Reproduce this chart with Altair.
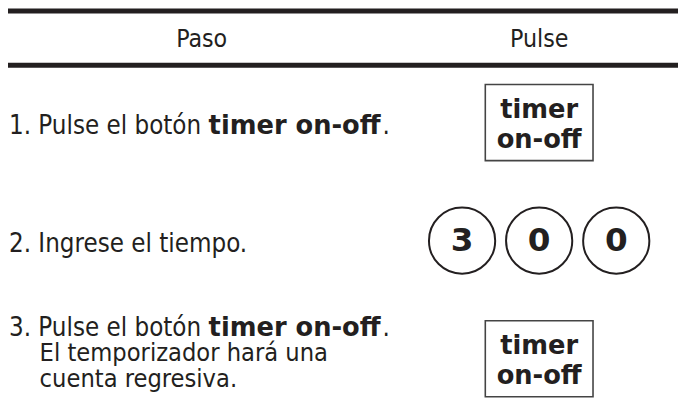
import altair as alt
import pandas as pd

# ---- content ----
headers = ["Paso", "Pulse"]
step_lead = ["1. Pulse el botón", "2. Ingrese el tiempo.", "3. Pulse el botón"]
step_bold = ["timer on-off", "", "timer on-off"]
step_tail = [".", "", "."]
step3_extra = ["El temporizador hará una", "cuenta regresiva."]
button_lines = ["timer", "on-off"]
digits = ["3", "0", "0"]

FONT = "DejaVu Sans Condensed, Liberation Sans, sans-serif"
BFONT = "DejaVu Sans, Liberation Sans, sans-serif"
INK = "#231f20"

# ---- layout (table units = page pixels, mapped through scales) ----
X0, X1 = 8, 686
Y0, Y1 = 8, 417
W, H = X1 - X0, Y1 - Y0
xs = alt.Scale(domain=[X0, X1])
ys = alt.Scale(domain=[Y0, Y1], reverse=True)

col_paso, col_pulse = 204, 545.5
text_left, indent = 9, 40
bold_left, tail_left = 211, 387
row_base = [133, 252, 337]
line_gap = 26
box_top = [83, 322]
box_w, box_h = 109, 77
circ_gap = 78
circ_y = 241

rules = pd.DataFrame({"x": [7, 7], "x2": [686, 686], "y": [8.5, 63.5]})
head = pd.DataFrame({"t": headers, "x": [col_paso, col_pulse], "y": [45, 45]})

reg_rows = []
bold_rows = []
for i, lead in enumerate(step_lead):
    reg_rows.append({"t": lead, "x": text_left, "y": row_base[i]})
    if step_bold[i]:
        bold_rows.append({"t": step_bold[i], "x": bold_left, "y": row_base[i]})
        reg_rows.append({"t": step_tail[i], "x": tail_left, "y": row_base[i]})
reg = pd.DataFrame(reg_rows)
bold = pd.DataFrame(bold_rows)
extra = pd.DataFrame({
    "t": step3_extra,
    "x": [indent] * len(step3_extra),
    "y": [row_base[2] + line_gap * (k + 1) for k in range(len(step3_extra))],
})

boxes = pd.DataFrame({
    "x": [col_pulse - box_w / 2] * 2, "x2": [col_pulse + box_w / 2] * 2,
    "y": box_top, "y2": [t + box_h for t in box_top],
})
btxt_rows = []
for t in box_top:
    for k, line in enumerate(button_lines):
        btxt_rows.append({"t": line, "x": col_pulse, "y": t + 34 + 30 * k})
btxt = pd.DataFrame(btxt_rows)

circ = pd.DataFrame({
    "t": digits,
    "x": [col_pulse + circ_gap * (k - 1) for k in range(len(digits))],
    "y": [circ_y] * len(digits),
})

X = lambda f="x": alt.X(f"{f}:Q", scale=xs, axis=None)
Y = lambda f="y": alt.Y(f"{f}:Q", scale=ys, axis=None)

l_rules = alt.Chart(rules).mark_rule(strokeWidth=5, color=INK).encode(
    x=X(), x2="x2:Q", y=Y())
l_head = alt.Chart(head).mark_text(font=FONT, fontSize=25, color=INK,
                                   align="center", baseline="alphabetic").encode(
    x=X(), y=Y(), text="t:N")
l_reg = alt.Chart(reg).mark_text(font=FONT, fontSize=26, color=INK,
                                 align="left", baseline="alphabetic").encode(
    x=X(), y=Y(), text="t:N")
l_extra = alt.Chart(extra).mark_text(font=FONT, fontSize=25.5, color=INK,
                                     align="left", baseline="alphabetic").encode(
    x=X(), y=Y(), text="t:N")
l_bold = alt.Chart(bold).mark_text(font=BFONT, fontSize=26, fontWeight="bold", color=INK,
                                   align="left", baseline="alphabetic").encode(
    x=X(), y=Y(), text="t:N")
l_boxes = alt.Chart(boxes).mark_rect(fill="white", stroke="#444444", strokeWidth=1.6).encode(
    x=X(), x2="x2:Q", y=Y(), y2="y2:Q")
l_btxt = alt.Chart(btxt).mark_text(font=BFONT, fontSize=26, fontWeight="bold", color=INK,
                                   align="center", baseline="alphabetic").encode(
    x=X(), y=Y(), text="t:N")
l_circ = alt.Chart(circ).mark_point(shape="circle", size=67 * 67, filled=False,
                                    stroke=INK, strokeWidth=2, opacity=1).encode(
    x=X(), y=Y())
l_dig = alt.Chart(circ).mark_text(font=BFONT, fontSize=33, fontWeight="bold", color=INK,
                                  align="center", baseline="middle").encode(
    x=X(), y=Y(), text="t:N")

chart = alt.layer(l_rules, l_head, l_reg, l_extra, l_bold, l_boxes, l_btxt, l_circ, l_dig).properties(
    width=W, height=H, padding=0, autosize="none", background="white"
).configure_view(stroke=None)

chart.save("out.html", embed_options={"renderer": "svg", "actions": False})
